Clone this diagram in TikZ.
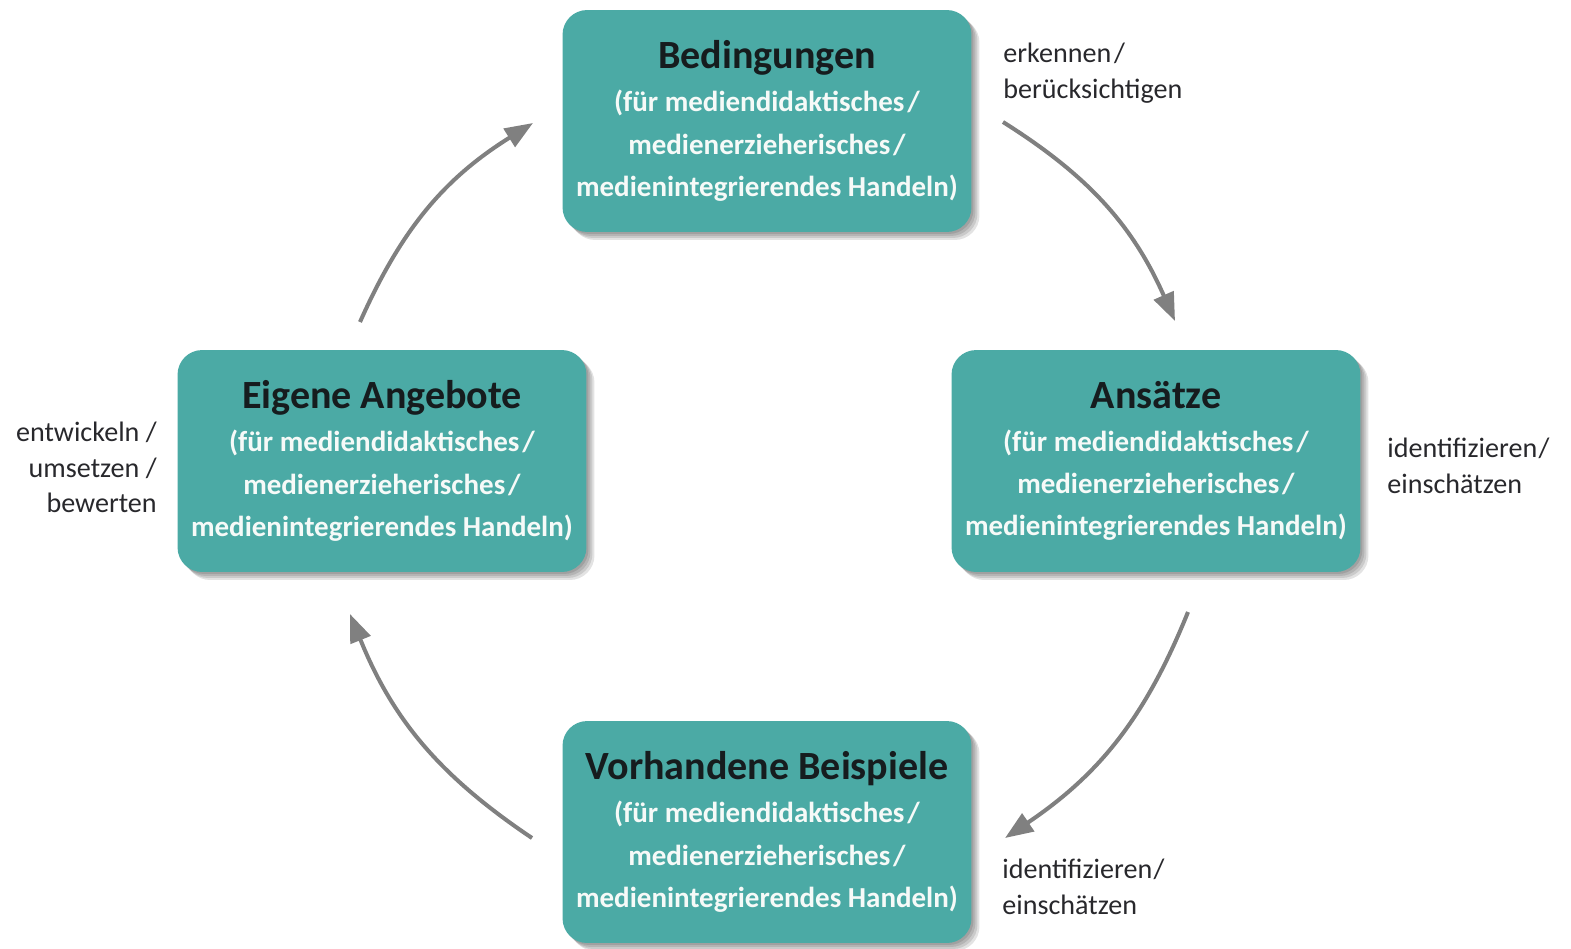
\documentclass[tikz,border=0pt]{standalone}
\usepackage{fontspec}
\setmainfont{Carlito}
\usetikzlibrary{arrows.meta}
\definecolor{boxteal}{RGB}{75,170,165}
\definecolor{titlecol}{RGB}{22,28,30}
\definecolor{subcol}{RGB}{246,250,248}
\definecolor{arrowgray}{RGB}{128,128,128}
\definecolor{labelcol}{RGB}{40,40,44}
\tikzset{
  phasebox/.style={fill=boxteal, rounded corners=14pt, minimum width=8.18cm,
    minimum height=4.44cm, inner sep=0pt, align=center, text=subcol,
    font=\fontsize{16.5pt}{24pt}\selectfont\bfseries},
  shadowbox/.style={fill=black, rounded corners=14pt, minimum width=8.18cm,
    minimum height=4.44cm, inner sep=0pt, opacity=0.11},
  cyclearrow/.style={draw=arrowgray, line width=2.3pt,
    -{Triangle[length=16pt,width=12pt]}},
  sidelabel/.style={text=labelcol, font=\fontsize{16pt}{20pt}\selectfont, inner sep=0pt}
}
\newcommand{\phasetitle}[1]{\textcolor{titlecol}{\fontsize{22.8pt}{26pt}\selectfont #1}}
\newcommand{\phaselines}{(für mediendidaktisches\hspace{0.1em}/\\ medienerzieherisches\hspace{0.1em}/\\ medienintegrierendes Handeln)}
\begin{document}
\begin{tikzpicture}[x=0.02cm, y=-0.02cm]
  \useasboundingbox (0,0) rectangle (1571,948);

  % soft drop shadows under the phase boxes
  \foreach \cx/\cy in {767/121, 1156/461, 767/832, 382/461} {
    \foreach \d in {2,4,6,8} {
      \node[shadowbox] at (\cx+\d,\cy+\d) {};
    }
  }

  % the four phases of the cycle
  \node[phasebox] (bed) at (767,121) {\phasetitle{Bedingungen}\\[0.5pt]\phaselines};
  \node[phasebox] (ans) at (1156,461) {\phasetitle{Ansätze}\\[0.5pt]\phaselines};
  \node[phasebox] (bsp) at (767,832) {\phasetitle{Vorhandene Beispiele}\\[0.5pt]\phaselines};
  \node[phasebox] (eig) at (382,461) {\phasetitle{Eigene Angebote}\\[0.5pt]\phaselines};

  % arrow end points on the circle around the cycle
  \coordinate (a1s) at (1003,122);
  \coordinate (a1e) at (1175,321);
  \coordinate (a2s) at (1188,612);
  \coordinate (a2e) at (1005,838);
  \coordinate (a3s) at (532,838);
  \coordinate (a3e) at (350,614);
  \coordinate (a4s) at (360,322);
  \coordinate (a4e) at (533,123);

  \draw[cyclearrow] (a1s) to[bend left=17] (a1e);
  \draw[cyclearrow] (a2s) to[bend left=17] (a2e);
  \draw[cyclearrow] (a3s) to[bend left=17] (a3e);
  \draw[cyclearrow] (a4s) to[bend left=17] (a4e);

  % activity labels
  \node[sidelabel, anchor=north west, align=left] (l1) at (1003,43) {erkennen\hspace{0.1em}/\\berücksichtigen};
  \node[sidelabel, anchor=north west, align=left] (l2) at (1387,438) {identifizieren\hspace{0.05em}/\\einschätzen};
  \node[sidelabel, anchor=north west, align=left] (l3) at (1002,859) {identifizieren\hspace{0.05em}/\\einschätzen};
  \node[sidelabel, anchor=north east, align=right] (l4) at (157,422) {entwickeln /\\umsetzen /\\bewerten};
\end{tikzpicture}
\end{document}
